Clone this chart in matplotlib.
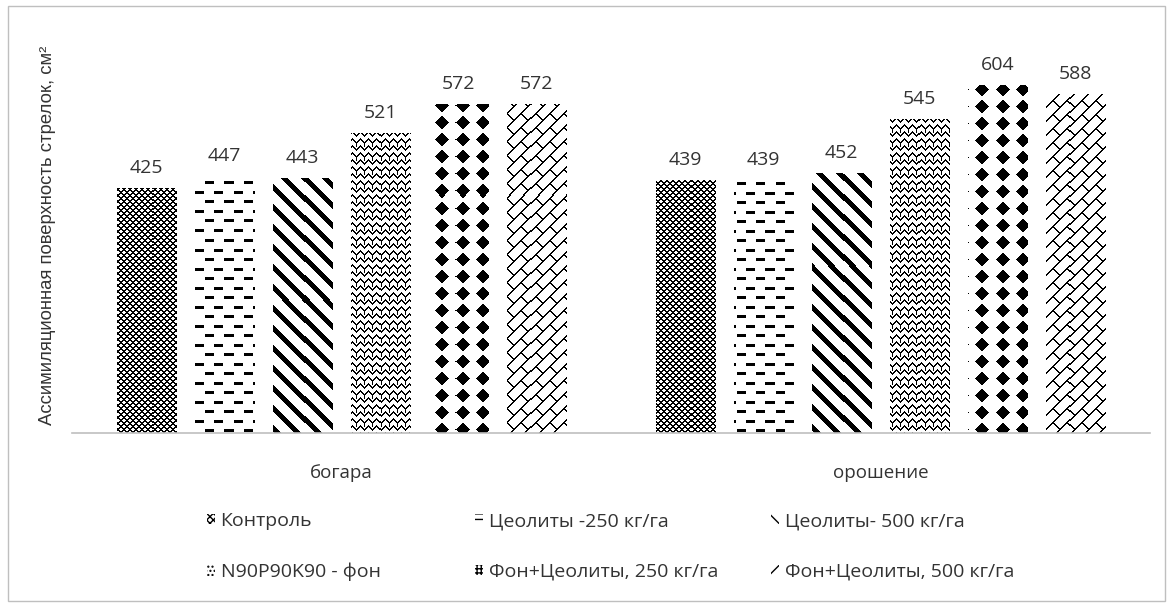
import numpy as np
import matplotlib
matplotlib.use('Agg')
import matplotlib.pyplot as plt
from matplotlib.patches import Patch, Rectangle

categories = ['богара', 'орошение']
series = ['Контроль', 'Цеолиты -250 кг/га', 'Цеолиты- 500 кг/га',
          'N90P90K90 - фон', 'Фон+Цеолиты, 250 кг/га', 'Фон+Цеолиты, 500 кг/га']
bogara = [425, 447, 443, 521, 572, 572]
oroshenie = [439, 439, 452, 545, 604, 588]
ylabel = 'Ассимиляционная поверхность стрелок, см²'

# hatches used only for the small legend keys
legend_hatch = ['xxxxx', '---', '\\\\\\', '....', '++++', '///']

W, H = 1173, 607
fig = plt.figure(figsize=(W / 100, H / 100), dpi=100)
ax = fig.add_axes([72 / W, 1 - 433 / H, (1150 - 72) / W, (433 - 30) / H])

FONT = ['Open Sans', 'DejaVu Sans']
TXT = '#333333'


def make_textures(h, w):
    # pixel fill patterns, 1 = black
    yy, xx = np.mgrid[0:h, 0:w]
    tex = []
    # dense lattice
    tex.append((((xx + yy) % 6) < 2) | (((xx - yy) % 6) < 2))
    # staggered dashes
    r = yy % 19
    row_a = (r < 3) & ((xx % 19) < 9)
    row_b = (r >= 10) & (r < 13) & (((xx + 10) % 19) < 9)
    tex.append(row_a | row_b)
    # wide diagonal stripes
    tex.append(((xx - yy) % 20) < 7)
    # zigzag weave
    tri = np.abs((xx % 8) - 4)
    tex.append((((yy + tri) % 7) < 2) | (((xx % 8) == 4) & ((yy % 14) < 5)))
    # big diamonds
    dx = np.abs((xx % 20) - 9.5)
    dy = np.abs((yy % 17) - 8)
    tex.append(dx ** 0.85 + dy ** 0.85 < 7.5 ** 0.85)
    # diagonal bricks
    s = xx + yy
    d = xx - yy
    row = s // 14
    tex.append(((s % 14) < 2) | (((d + (row % 2) * 14) % 28) < 2))
    return [t.astype(float) for t in tex]


n = len(series)
width = 0.111
step = 0.1447
x = np.arange(len(categories))
xlim = (-0.5, len(categories) - 0.5)
ylim = (0, 700)

bb = ax.get_position()
tex = make_textures(int(round(bb.height * H)), int(round(bb.width * W)))

for i in range(n):
    vals = [bogara[i], oroshenie[i]]
    pos = x + (i - (n - 1) / 2) * step
    bars = ax.bar(pos, vals, width, color='white', edgecolor='none', zorder=2)
    for bar, v in zip(bars, vals):
        im = ax.imshow(tex[i], extent=(xlim[0], xlim[1], ylim[0], ylim[1]),
                       origin='upper', cmap='gray_r', vmin=0, vmax=1,
                       interpolation='nearest', aspect='auto', zorder=2.5)
        im.set_clip_path(bar)
        ax.annotate(str(v), (bar.get_x() + bar.get_width() / 2, v),
                    xytext=(0, 8), textcoords='offset points',
                    ha='center', va='bottom', fontsize=14,
                    color=TXT, family=FONT)

ax.set_xlim(*xlim)
ax.set_ylim(*ylim)
ax.set_xticks(x)
ax.set_xticklabels(categories, fontsize=13.5, color=TXT, family=FONT)
ax.tick_params(axis='x', length=0, pad=22)
ax.set_yticks([])
for side in ['top', 'right', 'left']:
    ax.spines[side].set_visible(False)
ax.spines['bottom'].set_color('#bfbfbf')
ax.spines['bottom'].set_linewidth(1.2)

fig.text(48 / W, 1 - 235 / H, ylabel, rotation=90, ha='center', va='center',
         fontsize=13.3, color=TXT, family=['Liberation Sans', 'DejaVu Sans'])

# legend: two rows, three columns
col_x = [207, 475, 771]
row_y = [521, 572]
for i, name in enumerate(series):
    cx = col_x[i % 3]
    cy = row_y[i // 3]
    h = Patch(facecolor='white', edgecolor='black', hatch=legend_hatch[i], linewidth=0)
    fig.legend([h], [name], loc='center left', bbox_to_anchor=(cx / W, 1 - cy / H),
               frameon=False, borderpad=0, borderaxespad=0,
               handlelength=0.4, handleheight=0.45, handletextpad=0.3,
               prop={'family': FONT, 'size': 14}, labelcolor=TXT)

fig.add_artist(Rectangle((8 / W, 6 / H), (1165 - 8) / W, (601 - 6) / H,
                         transform=fig.transFigure, fill=False,
                         edgecolor='#bfbfbf', linewidth=1))

fig.savefig('out.png', dpi=100)
